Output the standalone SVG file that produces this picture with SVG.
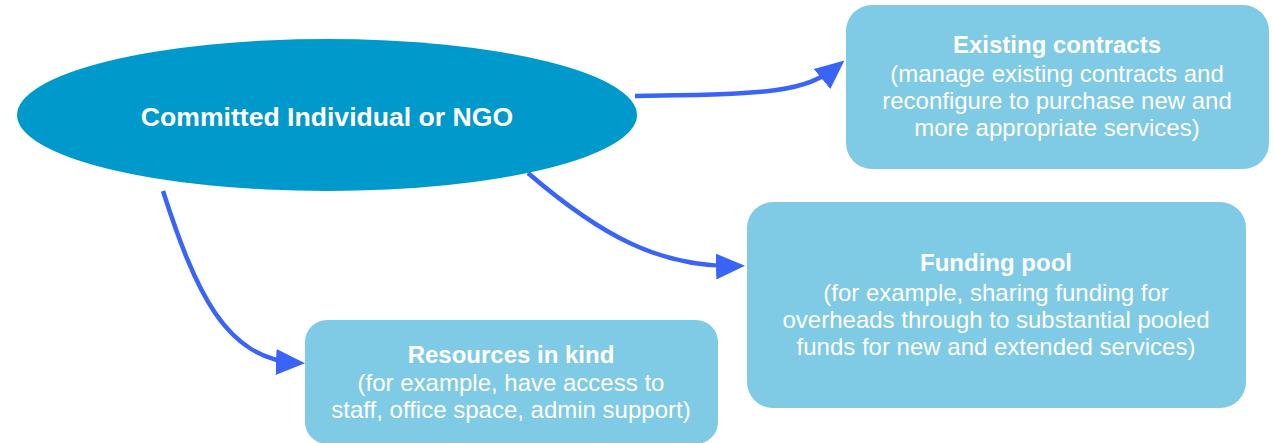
<svg xmlns="http://www.w3.org/2000/svg" width="1274" height="443" viewBox="0 0 1274 443">
<style>
.box{fill:#7fcae4}
.t{font-family:"Liberation Sans",Arial,sans-serif;font-size:24px;fill:#ffffff;text-anchor:middle}
.b{font-weight:bold}
.conn{fill:none;stroke:#3a63f7;stroke-width:4.5}
</style>
<defs>
<marker id="ah" markerUnits="userSpaceOnUse" markerWidth="32" markerHeight="28" refX="22" refY="13" orient="auto">
<path d="M0,0 L29,13 L0,26 z" fill="#3a63f7"/>
</marker>
</defs>
<rect width="1274" height="443" fill="#ffffff"/>
<g id="connectors">
<path class="conn" d="M635,96 C770,94 805,93 839,65" marker-end="url(#ah)"/>
<path class="conn" d="M528,173 C600,235 660,268 738,266" marker-end="url(#ah)"/>
<path class="conn" d="M163,191 C195,290 225,360 298,363" marker-end="url(#ah)"/>
</g>
<g id="committed">
<ellipse cx="327" cy="115" rx="310" ry="76" fill="#0099cc"/>
<text class="t b" x="327" y="126" style="font-size:26.6px">Committed Individual or NGO</text>
</g>
<g id="existing">
<rect class="box" x="846" y="5" width="423" height="164" rx="26"/>
<text class="t b" x="1057" y="53">Existing contracts</text>
<text class="t" x="1057" y="82">(manage existing contracts and</text>
<text class="t" x="1057" y="109">reconfigure to purchase new and</text>
<text class="t" x="1057" y="136">more appropriate services)</text>
</g>
<g id="funding">
<rect class="box" x="747" y="202" width="499" height="206" rx="26"/>
<text class="t b" x="996" y="271">Funding pool</text>
<text class="t" x="996" y="301">(for example, sharing funding for</text>
<text class="t" x="996" y="328">overheads through to substantial pooled</text>
<text class="t" x="996" y="355">funds for new and extended services)</text>
</g>
<g id="resources">
<rect class="box" x="305" y="320" width="413" height="124" rx="22"/>
<text class="t b" x="511" y="363">Resources in kind</text>
<text class="t" x="511" y="391">(for example, have access to</text>
<text class="t" x="511" y="418">staff, office space, admin support)</text>
</g>
</svg>
